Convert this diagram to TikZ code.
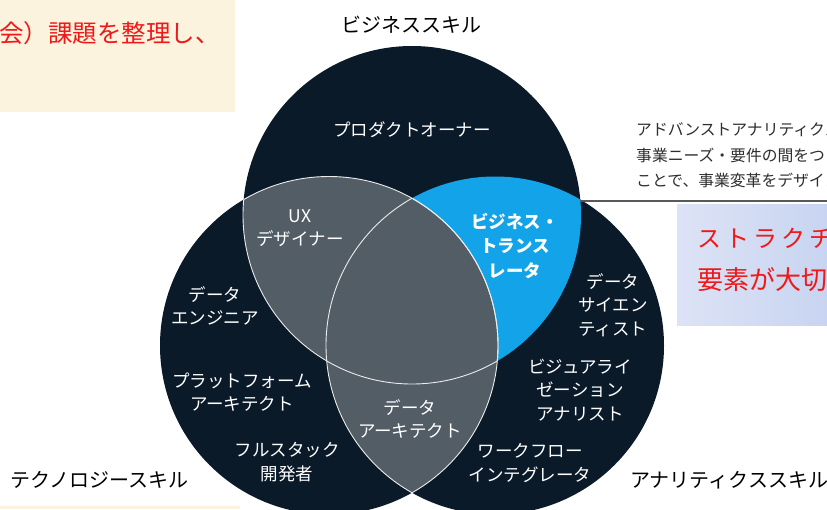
\documentclass[tikz,border=0pt]{standalone}
\usepackage{fontspec}
\newfontfamily\jp[RawFeature=+palt]{Noto Sans CJK JP}
\newfontfamily\jpm{Noto Sans CJK JP}
\definecolor{navyC}{HTML}{0B1A29}
\definecolor{grayC}{HTML}{525D66}
\definecolor{blueC}{HTML}{13A3E8}
\definecolor{beigeC}{HTML}{FBF3DD}
\definecolor{boxL}{HTML}{DDE3F6}
\definecolor{boxR}{HTML}{C6D3F0}
\definecolor{noteC}{HTML}{2E2E2E}
\definecolor{redC}{HTML}{F01818}
\begin{document}
\begin{tikzpicture}[x=1pt,y=-1pt,
  lab/.style={text=white,align=center,inner sep=0pt,font=\jpm\fontsize{17.5}{23.5}\selectfont},
  labb/.style={lab,font=\jpm\bfseries\fontsize{17.5}{24.5}\selectfont},
  ttl/.style={text=black,inner sep=0pt,font=\jpm\fontsize{20}{22}\selectfont},
  note/.style={text=noteC,inner sep=0pt,anchor=west,font=\jpm\fontsize{15.8}{18}\selectfont},
  redtxt/.style={text=redC,inner sep=0pt,anchor=west},
  wl/.style={draw=white!85!gray,line width=0.9pt},
  conn/.style={draw=black!65,line width=1.3pt}]
\useasboundingbox (0,0) rectangle (827,509);
\clip (0,0) rectangle (827,509);
\fill[white] (0,0) rectangle (827,509);
% centres
\coordinate (cT) at (412,215);
\coordinate (cL) at (329,345.5);
\coordinate (cR) at (495,345.5);
\def\R{169pt}
% base circles
\fill[navyC] (cT) circle[radius=\R];
\fill[navyC] (cL) circle[radius=\R];
\fill[navyC] (cR) circle[radius=\R];
% business & analytics overlap
\begin{scope}
  \clip (cT) circle[radius=\R];
  \fill[blueC] (cR) circle[radius=\R];
\end{scope}
% overlaps with technology
\begin{scope}
  \clip (cL) circle[radius=\R];
  \fill[grayC] (cT) circle[radius=\R];
  \fill[grayC] (cR) circle[radius=\R];
\end{scope}
% white outlines
\begin{scope}
  \clip (cT) circle[radius=\R];
  \draw[wl] (cL) circle[radius=\R];
\end{scope}
\begin{scope}
  \clip (cR) circle[radius=\R];
  \draw[wl] (cL) circle[radius=\R];
\end{scope}
\begin{scope}
  \clip (cL) circle[radius=\R];
  \draw[wl] (cT) circle[radius=\R];
  \draw[wl] (cR) circle[radius=\R];
\end{scope}
% titles
\node[ttl] (tBiz) at (411,25) {ビジネススキル};
\node[ttl,anchor=west] (tTech) at (10,480) {テクノロジースキル};
\node[ttl,anchor=west] (tAna) at (630,480) {アナリティクススキル};
% role labels
\node[lab] (po) at (412,130) {プロダクトオーナー};
\node[lab] (ux) at (300,228) {UX\\デザイナー};
\node[labb] (bt) at (515,246) {ビジネス・\\トランス\\レータ};
\node[lab] (de) at (215,306) {データ\\エンジニア};
\node[lab] (pa) at (242,392) {プラットフォーム\\アーキテクト};
\node[lab] (fs) at (287,462) {フルスタック\\開発者};
\node[lab] (da) at (410,419) {データ\\アーキテクト};
\node[lab] (ds) at (613,305) {データ\\サイエン\\ティスト};
\node[lab] (va) at (580,390) {ビジュアライ\\ゼーション\\アナリスト};
\node[lab] (wi) at (530,463) {ワークフロー\\インテグレータ};
% note text (top right)
\node[note] (n1) at (636,130) {アドバンストアナリティクス};
\node[note] (n2) at (636,155) {事業ニーズ・要件の間をつ};
\node[note] (n3) at (636,180) {ことで、事業変革をデザイン};
\coordinate (lineA) at (580,201);
\coordinate (lineB) at (827,201);
\draw[conn] (lineA) -- (lineB);
% overlay: beige box top-left
\fill[beigeC] (0,0) rectangle (235,112);
\fill[beigeC] (0,506) rectangle (240,509);
\node[redtxt,font=\jpm\fontsize{24.5}{28}\selectfont] (r1) at (-1,33) {会）課題を整理し、};
% overlay: lavender box right
\shade[left color=boxL,right color=boxR] (677,204) rectangle (840,325);
\node[redtxt,font=\jpm\fontsize{24}{28}\selectfont] (r2) at (697,239)
  {ス\hspace{4pt}ト\hspace{4pt}ラ\hspace{4pt}ク\hspace{4pt}チ\hspace{4pt}ャ};
\node[redtxt,font=\jpm\fontsize{26}{30}\selectfont] (r3) at (697,280) {要素が大切};
\end{tikzpicture}
\end{document}
